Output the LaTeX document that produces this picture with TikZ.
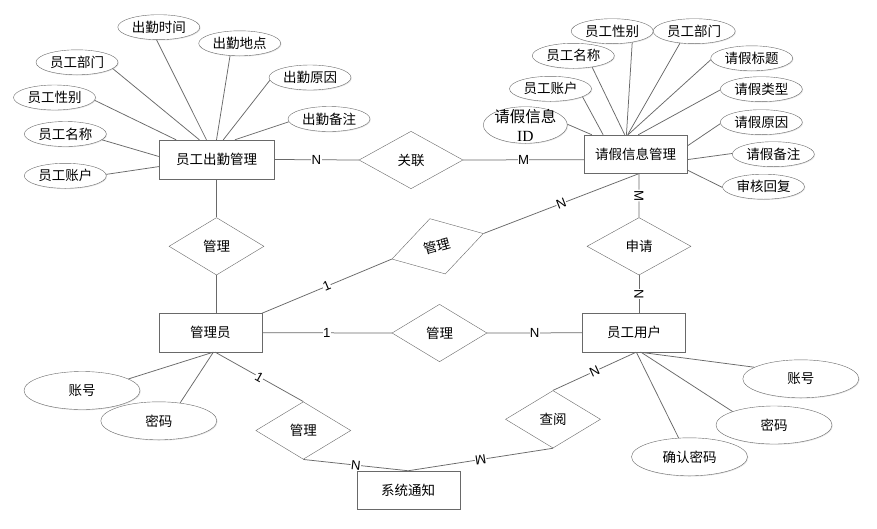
\documentclass[tikz,border=0pt]{standalone}
\usepackage{fontspec}
\setmainfont{Noto Sans CJK SC}
\newfontfamily\cardfont{Liberation Sans}
\newfontfamily\idfont{Liberation Serif}
\usepackage{tikz}
\usetikzlibrary{shapes, shapes.geometric, shadows}
\definecolor{linegray}{RGB}{105,105,105}
\tikzset{
  soft shadow/.style={
    drop shadow={shadow xshift=0.8pt, shadow yshift=-0.8pt, opacity=0.25, fill=black!40}
  },
  card/.style={
    midway,
    fill=white,
    inner sep=0.4pt,
    font=\cardfont\fontsize{13.2pt}{15pt}\selectfont
  },
}
\tikzstyle{entity} = [rectangle, draw=linegray, fill=white, soft shadow, minimum width=103pt, minimum height=38.5pt, inner sep=0pt]
\tikzstyle{rel} = [diamond, draw=linegray, fill=white, minimum width=95pt, minimum height=57.5pt, inner sep=0pt]
\tikzstyle{attr} = [ellipse, draw=linegray, fill=white, soft shadow, minimum width=82pt, minimum height=25pt, inner sep=0pt]
\tikzstyle{bigattr} = [attr, minimum width=116pt, minimum height=38pt]
\tikzstyle{link} = [draw=linegray, line width=0.75pt]

\begin{document}
\begin{tikzpicture}[x=1pt, y=-1pt, font=\fontsize{13.5pt}{16pt}\selectfont]
        \fill [white] (0,0) rectangle (877,528);
        \useasboundingbox (0,0) rectangle (877,528);

        % entities
        \node [entity, minimum width=115pt, minimum height=39pt] (attend) at (216.5,159.5) {员工出勤管理};
        \node [entity] (leave) at (635.5,154.2) {请假信息管理};
        \node [entity] (admin) at (210.3,332.7) {管理员};
        \node [entity] (staff) at (634,332.8) {员工用户};
        \node [entity] (notice) at (408.2,490.2) {系统通知};

        % relations
        \node [rel, minimum width=104pt] (assoc) at (411,160) {关联};
        \node [rel] (mgrA) at (216.5,246.3) {管理};
        \node [rel, minimum width=104pt] (apply) at (639,246.3) {申请};
        \node [rel] (mgrB) at (439.5,333) {管理};
        \node [rel, rotate=15.6] (mgrC) at (437.6,246.3) {管理};
        \node [rel] (mgrD) at (303.3,430.5) {管理};
        \node [rel] (view) at (553,419.3) {查阅};

        % attributes of attendance
        \node [attr] (aTime) at (158.8,27.2) {出勤时间};
        \node [attr] (aPlace) at (239.7,43.3) {出勤地点};
        \node [attr] (aDept) at (77,62.3) {员工部门};
        \node [attr] (aCause) at (310,77.5) {出勤原因};
        \node [attr] (aSex) at (54.5,97.5) {员工性别};
        \node [attr] (aNote) at (329,119) {出勤备注};
        \node [attr] (aName) at (65.3,134) {员工名称};
        \node [attr] (aAcc) at (65.3,175.8) {员工账户};

        % attributes of leave
        \node [attr] (lSex) at (612.2,31.2) {员工性别};
        \node [attr] (lDept) at (694.2,31.2) {员工部门};
        \node [attr] (lName) at (573.3,55.8) {员工名称};
        \node [attr] (lTitle) at (751.7,58.3) {请假标题};
        \node [attr] (lAcc) at (550.5,88.8) {员工账户};
        \node [attr] (lType) at (761.3,89.2) {请假类型};
        \node [attr, minimum width=84pt, minimum height=36.6pt,
               label={[font=\fontsize{15.5pt}{19pt}\selectfont, align=center]center:{请假信息\\{\idfont ID}}}] (lId) at (525.3,125) {};
        \node [attr] (lCause) at (761.3,122.2) {请假原因};
        \node [attr] (lNote) at (773.3,154.2) {请假备注};
        \node [attr] (lReply) at (763.5,186.7) {审核回复};

        % attributes of admin and staff
        \node [bigattr] (admAcc) at (82,390.5) {账号};
        \node [bigattr] (admPwd) at (158.8,420.8) {密码};
        \node [bigattr] (stfAcc) at (800.8,378.8) {账号};
        \node [bigattr] (stfPwd) at (774,425) {密码};
        \node [bigattr] (stfCfm) at (689.5,456.8) {确认密码};

        % attribute lines
        \draw [link] (aDept.-10) -- (attend.131);
        \draw [link] (aTime.-100) -- (attend.117);
        \draw [link] (aPlace.-128) -- (attend.90);
        \draw [link] (aCause.-176) -- (attend.71);
        \draw [link] (aNote.-176) -- (attend.47);
        \draw [link] (aSex.-4) -- (attend.154);
        \draw [link] (aName.-9) -- (attend.177);
        \draw [link] (aAcc.2) -- (attend.-173);

        \draw [link] (lId.1) -- (leave.156);
        \draw [link] (lAcc.-14) -- (leave.149);
        \draw [link] (lName.-31) -- (leave.119);
        \draw [link] (lSex.-29) -- (leave.115);
        \draw [link] (lDept.-140) -- (leave.112);
        \draw [link] (lTitle.-178) -- (leave.111);
        \draw [link] (lType.-179) -- (leave.82);
        \draw [link] (lCause.-178) -- (leave.9);
        \draw [link] (lNote.179) -- (leave.-6);
        \draw [link] (lReply.-179) -- (leave.-17);

        \draw [link] (admAcc.14) -- (admin.-81);
        \draw [link] (admPwd.40) -- (admin.-81);
        \draw [link] (stfAcc.166) -- (staff.-72);
        \draw [link] (stfPwd.162) -- (staff.-70);
        \draw [link] (stfCfm.120) -- (staff.-83);

        % relation lines
        \draw [link] (attend.east) -- node[card] {N} (assoc.west);
        \draw [link] (assoc.east) -- node[card] {M} (leave.186);
        \draw [link] (attend.south) -- (mgrA.north);
        \draw [link] (mgrA.south) -- (mgrA.south |- admin.north);
        \draw [link] (admin.north east) -- node[card, sloped] {1} (mgrC.west);
        \draw [link] (mgrC.east) -- node[card, sloped] {N} (leave.-80);
        \draw [link] (leave.-80) -- node[card, sloped] {M} (apply.north);
        \draw [link] (apply.south) -- node[card, sloped] {N} (apply.south |- staff.north);
        \draw [link] (admin.east) -- node[card] {1} (mgrB.west);
        \draw [link] (mgrB.east) -- node[card] {N} (staff.west);
        \draw [link] (admin.-76) -- node[card, sloped] {1} (mgrD.north);
        \draw [link] (mgrD.south) -- node[card, sloped] {N} (notice.north);
        \draw [link] (view.north) -- node[card, sloped] {N} (staff.-84);
        \draw [link] (view.south) -- node[card, sloped, allow upside down] {M} (notice.north);
\end{tikzpicture}
\end{document}
